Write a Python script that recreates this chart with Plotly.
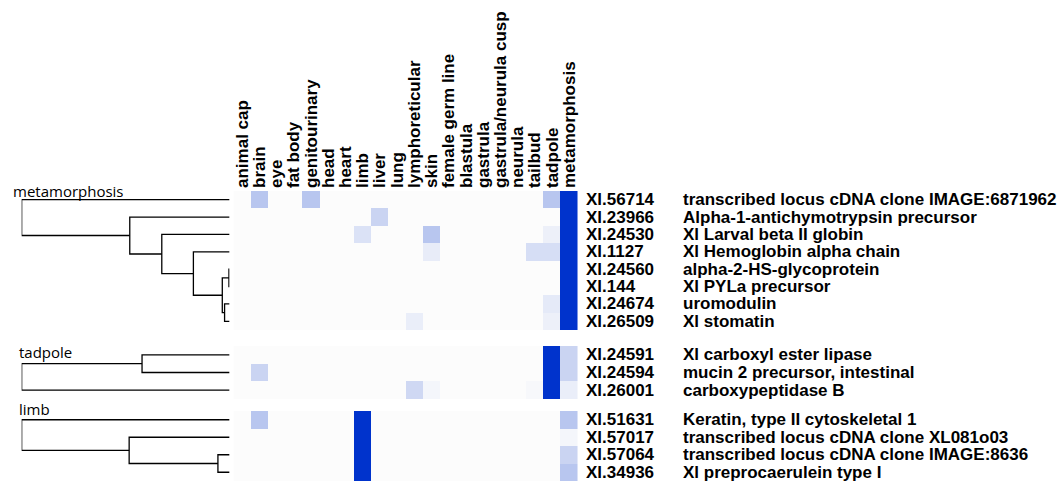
import plotly.graph_objects as go

W, H = 1062, 483

tissues = ["animal cap", "brain", "eye", "fat body", "genitourinary", "head", "heart",
           "limb", "liver", "lung", "lymphoreticular", "skin", "female germ line",
           "blastula", "gastrula", "gastrula/neurula cusp", "neurula", "tailbud",
           "tadpole", "metamorphosis"]

group_names = ["metamorphosis", "tadpole", "limb"]

meta_ids = ["Xl.56714", "Xl.23966", "Xl.24530", "Xl.1127", "Xl.24560", "Xl.144", "Xl.24674", "Xl.26509"]
meta_desc = ["transcribed locus cDNA clone IMAGE:6871962", "Alpha-1-antichymotrypsin precursor",
             "Xl Larval beta II globin", "Xl Hemoglobin alpha chain", "alpha-2-HS-glycoprotein",
             "Xl PYLa precursor", "uromodulin", "Xl stomatin"]
tad_ids = ["Xl.24591", "Xl.24594", "Xl.26001"]
tad_desc = ["Xl carboxyl ester lipase", "mucin 2 precursor, intestinal", "carboxypeptidase B"]
limb_ids = ["Xl.51631", "Xl.57017", "Xl.57064", "Xl.34936"]
limb_desc = ["Keratin, type II cytoskeletal 1", "transcribed locus cDNA clone XL081o03",
             "transcribed locus cDNA clone IMAGE:8636", "Xl preprocaerulein type I"]

#            ac   br   ey   fb   gu   hd   ht   lm   lv   lu   ly   sk   fg   bl   ga   gn   ne   tb   tp   me
meta_vals = [[0, .27, 0, 0, .27, 0, 0, 0, 0, 0, 0, 0, 0, 0, 0, 0, 0, 0, .27, 1],
             [0, 0, 0, 0, 0, 0, 0, 0, .20, 0, 0, 0, 0, 0, 0, 0, 0, 0, 0, 1],
             [0, 0, 0, 0, 0, 0, 0, .13, 0, 0, 0, .27, 0, 0, 0, 0, 0, 0, .06, 1],
             [0, 0, 0, 0, 0, 0, 0, 0, 0, 0, 0, .08, 0, 0, 0, 0, 0, .15, .15, 1],
             [0, 0, 0, 0, 0, 0, 0, 0, 0, 0, 0, 0, 0, 0, 0, 0, 0, 0, 0, 1],
             [0, 0, 0, 0, 0, 0, 0, 0, 0, 0, 0, 0, 0, 0, 0, 0, 0, 0, 0, 1],
             [0, 0, 0, 0, 0, 0, 0, 0, 0, 0, 0, 0, 0, 0, 0, 0, 0, 0, .09, 1],
             [0, 0, 0, 0, 0, 0, 0, 0, 0, 0, .07, 0, 0, 0, 0, 0, 0, 0, .06, 1]]
tad_vals = [[0, 0, 0, 0, 0, 0, 0, 0, 0, 0, 0, 0, 0, 0, 0, 0, 0, 0, 1, .20],
            [0, .20, 0, 0, 0, 0, 0, 0, 0, 0, 0, 0, 0, 0, 0, 0, 0, 0, 1, .20],
            [0, 0, 0, 0, 0, 0, 0, 0, 0, 0, .18, .03, 0, 0, 0, 0, 0, .02, 1, .07]]
limb_vals = [[0, .27, 0, 0, 0, 0, 0, 1, 0, 0, 0, 0, 0, 0, 0, 0, 0, 0, 0, .27],
             [0, 0, 0, 0, 0, 0, 0, 1, 0, 0, 0, 0, 0, 0, 0, 0, 0, 0, 0, .03],
             [0, 0, 0, 0, 0, 0, 0, 1, 0, 0, 0, 0, 0, 0, 0, 0, 0, 0, 0, .20],
             [0, 0, 0, 0, 0, 0, 0, 1, 0, 0, 0, 0, 0, 0, 0, 0, 0, 0, 0, .27]]

# linkage (child a, child b, height) ; leaves 0..n-1, new nodes numbered n, n+1, ...
meta_link = [(4, 5, 0.003), (6, 7, 0.024), (8, 9, 0.035), (3, 10, 0.174),
             (2, 11, 0.326), (1, 12, 0.48), (0, 13, 1.0)]
tad_link = [(0, 1, 0.421), (2, 3, 1.0)]
limb_link = [(2, 3, 0.056), (1, 4, 0.483), (0, 5, 1.0)]

groups = [
    (meta_ids, meta_desc, meta_vals, meta_link),
    (tad_ids, tad_desc, tad_vals, tad_link),
    (limb_ids, limb_desc, limb_vals, limb_link),
]

# layout in pixels
y_px = [(191, 330), (346, 399), (411, 481)]
label_px = [(10, 191), (16, 352), (16, 409)]
hm_x = (233, 578)
den_x = (20.7, 229)

fig = go.Figure()
colorscale = [[0, "#fcfcfc"], [1, "#0033cc"]]
bold = dict(family="Liberation Sans, Arial, sans-serif", size=17, color="#000000", weight="bold")

annotations = []
for gi, (ids, desc, vals, link) in enumerate(groups):
    ya = "y" if gi == 0 else f"y{gi + 1}"
    n = len(ids)
    fig.add_trace(go.Heatmap(z=vals, x=tissues, y=list(range(n)), xaxis="x", yaxis=ya,
                             colorscale=colorscale, zmin=0, zmax=1, showscale=False,
                             hoverinfo="skip"))
    # dendrogram
    pos = {i: float(i) for i in range(n)}
    hgt = {i: 0.0 for i in range(n)}
    xs, ys = [], []
    nid = n
    for a, b, h in link:
        xs += [hgt[a], h, h, hgt[b], None]
        ys += [pos[a], pos[a], pos[b], pos[b], None]
        pos[nid] = (pos[a] + pos[b]) / 2
        hgt[nid] = h
        nid += 1
    fig.add_trace(go.Scatter(x=xs, y=ys, xaxis="x2", yaxis=ya, mode="lines",
                             line=dict(color="#000000", width=1.3), hoverinfo="skip",
                             showlegend=False, cliponaxis=False))
    for i in range(n):
        annotations.append(dict(text=ids[i], xref="paper", x=584 / W, yref=ya, y=i,
                                xanchor="left", yanchor="middle", showarrow=False, font=bold))
        annotations.append(dict(text=desc[i], xref="paper", x=681 / W, yref=ya, y=i,
                                xanchor="left", yanchor="middle", showarrow=False, font=bold))
    lx, ly = label_px[gi]
    annotations.append(dict(text=group_names[gi], xref="paper", x=lx / W, yref="paper",
                            y=1 - ly / H, xanchor="left", yanchor="middle", showarrow=False,
                            font=dict(family="Open Sans, sans-serif", size=15, color="#000000")))

layout = dict(
    width=W, height=H, margin=dict(l=0, r=0, t=0, b=0),
    paper_bgcolor="white", plot_bgcolor="white", showlegend=False,
    xaxis=dict(domain=[hm_x[0] / W, hm_x[1] / W], anchor="y", side="top", type="category",
               tickmode="array", tickvals=tissues, ticktext=tissues,
               tickangle=-90, ticks="", showgrid=False, zeroline=False, showline=False,
               tickfont=bold, ticklabelstandoff=2),
    xaxis2=dict(domain=[den_x[0] / W, den_x[1] / W], anchor="y", range=[1, 0],
                visible=False),
    annotations=annotations,
)
for gi, (ids, _, _, _) in enumerate(groups):
    key = "yaxis" if gi == 0 else f"yaxis{gi + 1}"
    top, bot = y_px[gi]
    layout[key] = dict(domain=[1 - bot / H, 1 - top / H], range=[len(ids) - 0.5, -0.5],
                       visible=False, anchor="x")
fig.update_layout(**layout)

fig.write_html("out.html", config={"displayModeBar": False},
               post_script="document.body.style.margin='0px';document.body.style.overflow='hidden';")
